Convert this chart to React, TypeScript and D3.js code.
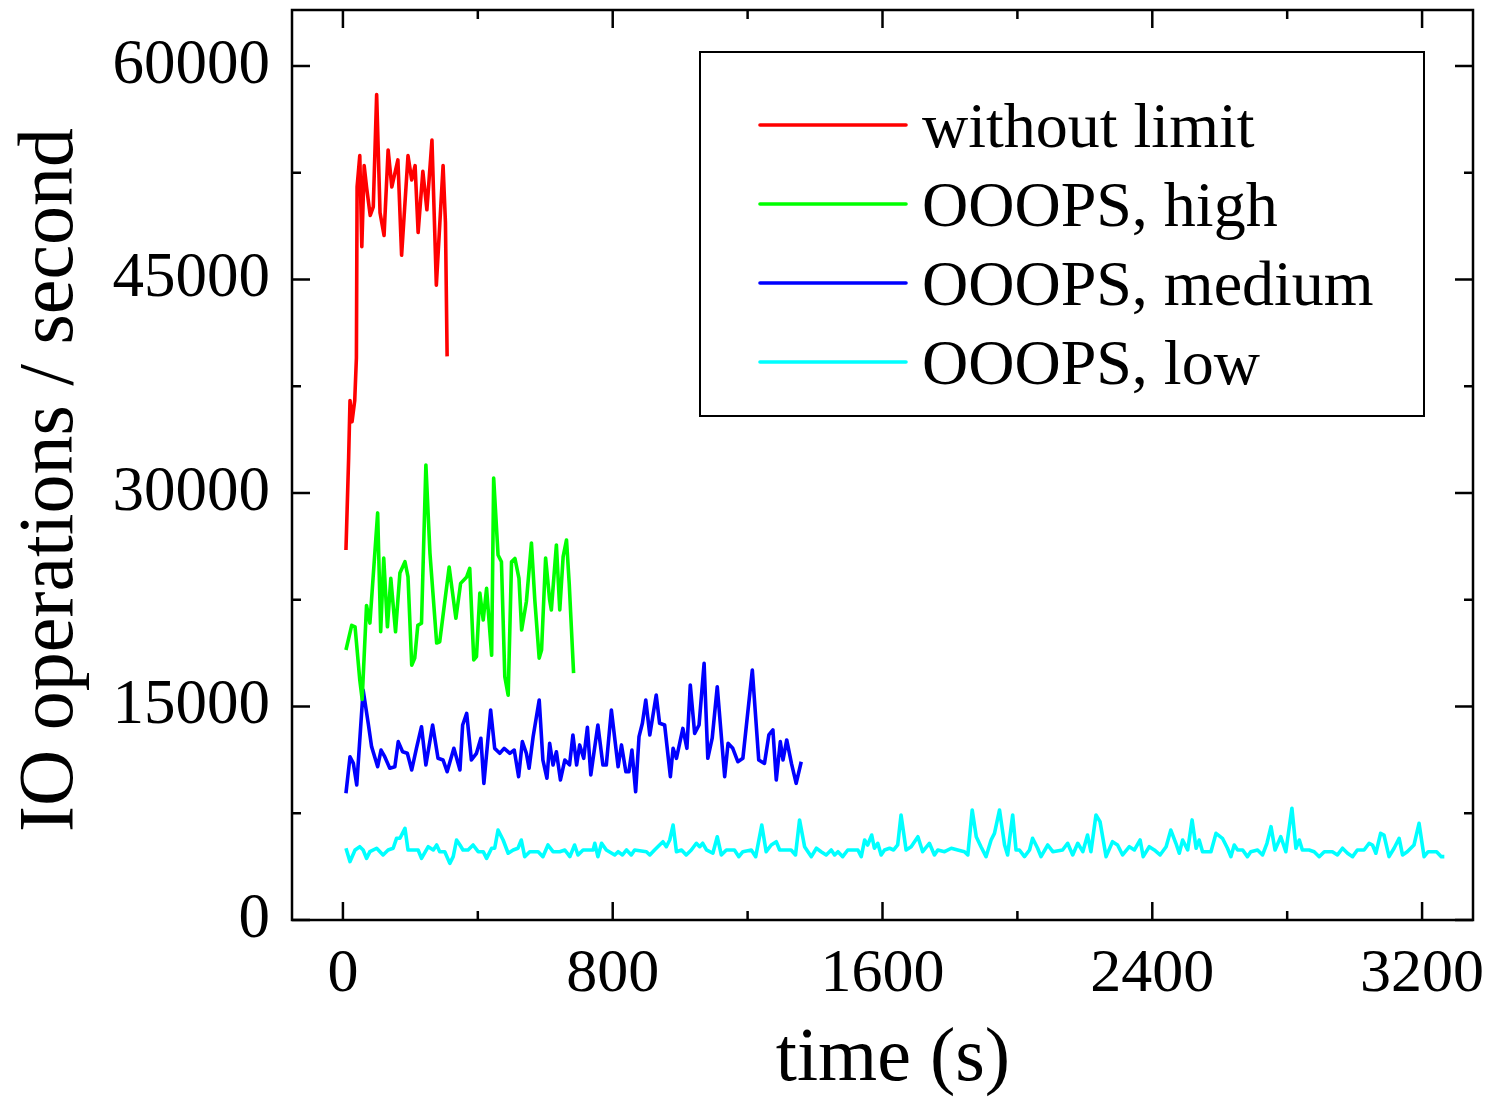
import React from "react";
import * as d3 from "d3";

// time (s) / IO operations per second
const noLimit: [number, number][] = [
  [9, 26000], [17, 32500], [21, 36500], [27, 35000], [35, 36500], [40, 39500],
  [42, 51500], [50, 53700], [56, 47300], [63, 53000], [70, 51500], [81, 49500],
  [90, 50100], [100, 58000], [110, 49700], [122, 48100], [134, 54100], [145, 51500],
  [163, 53400], [174, 46700], [193, 53700], [204, 52000], [214, 53000], [223, 48300],
  [237, 52600], [249, 49900], [264, 54800], [277, 44600], [297, 53000], [304, 49000],
  [309, 39600],
];

const high: [number, number][] = [
  [9, 18970], [26, 20700], [36, 20600], [50, 16860], [57, 15500], [70, 22100],
  [80, 20860], [103, 28600], [112, 20250], [121, 25430], [132, 20600], [142, 24000],
  [156, 20250], [169, 24380], [184, 25170], [193, 24100], [204, 17900], [213, 18400],
  [222, 20700], [233, 20850], [246, 31970], [258, 25800], [278, 19460], [287, 19550],
  [315, 24800], [335, 21200], [349, 23650], [367, 24100], [376, 24700], [388, 18270],
  [396, 18500], [406, 22970], [416, 21080], [426, 23300], [441, 18600], [447, 31050],
  [460, 25640], [470, 25170], [480, 17100], [490, 15800], [500, 25170], [510, 25400],
  [522, 24000], [530, 20370], [544, 22360], [559, 26490], [569, 22480], [582, 18400],
  [589, 18970], [601, 25430], [613, 22480], [618, 21780], [633, 26350], [643, 21780],
  [653, 25530], [663, 26700], [671, 23650], [684, 17350],
];

const medium: [number, number][] = [
  [9, 8900], [21, 11470], [31, 11000], [41, 9490], [60, 16160], [75, 13820],
  [85, 12180], [103, 10770], [113, 11940], [124, 11470], [139, 10660], [154, 10770],
  [164, 12530], [177, 11820], [191, 11710], [204, 10540], [218, 12060], [233, 13580],
  [246, 10890], [266, 13700], [282, 11360], [297, 11240], [309, 10420], [329, 12060],
  [347, 10540], [355, 13700], [367, 14520], [381, 11240], [396, 11710], [409, 12770],
  [418, 9600], [438, 14750], [450, 12060], [465, 11710], [478, 12060], [495, 11710],
  [508, 11940], [521, 10070], [532, 12530], [544, 11710], [552, 10660], [564, 12880],
  [582, 15460], [593, 11240], [605, 9960], [613, 12410], [623, 10890], [633, 11820],
  [645, 9840], [658, 11240], [672, 10900], [682, 13000], [693, 10890], [702, 12300],
  [714, 11360], [725, 13540], [735, 10190], [756, 13700], [771, 10890], [781, 10890],
  [796, 14750], [816, 10770], [826, 12300], [839, 10420], [848, 10420], [857, 11940],
  [868, 9010], [878, 12880], [888, 13820], [898, 15460], [910, 13000], [929, 15810],
  [939, 13820], [954, 13700], [971, 10070], [979, 12060], [989, 11360], [1008, 13460],
  [1020, 12060], [1030, 16510], [1043, 13110], [1056, 13700], [1071, 18030], [1082, 11360],
  [1095, 12770], [1110, 16390], [1132, 10070], [1142, 12410], [1156, 12060], [1171, 11120],
  [1186, 11360], [1214, 17560], [1233, 11240], [1250, 11000], [1263, 13000], [1275, 13350],
  [1285, 9840], [1297, 12530], [1305, 11240], [1316, 12650], [1330, 11000], [1344, 9600],
  [1359, 11120],
];

const low: [number, number][] = [
  [9, 5040], [21, 4100], [36, 4920], [50, 5150], [60, 4920], [70, 4330], [80, 4800],
  [100, 5040], [119, 4570], [134, 4920], [149, 5040], [159, 5740], [169, 5740], [184, 6440],
  [193, 4920], [223, 4920], [233, 4330], [253, 5150], [268, 4920], [278, 5270], [287, 4800],
  [302, 4800], [317, 3980], [327, 4450], [337, 5620], [347, 5270], [356, 4920], [371, 4920],
  [386, 5270], [401, 4800], [416, 4800], [426, 4330], [441, 5040], [450, 5040], [460, 6320],
  [475, 5620], [490, 4690], [505, 4920], [519, 5040], [529, 5620], [539, 4450], [554, 4800],
  [579, 4800], [593, 4450], [608, 5270], [623, 4800], [643, 4800], [658, 4920], [673, 4450],
  [687, 5270], [697, 4570], [712, 4920], [742, 4920], [747, 5390], [756, 4450], [767, 5390],
  [781, 4920], [806, 4570], [816, 4800], [829, 4570], [841, 4920], [855, 4570], [865, 4920],
  [900, 4800], [910, 4570], [924, 4920], [939, 5270], [949, 5500], [959, 5150], [969, 5620],
  [979, 6670], [989, 4800], [1004, 4920], [1018, 4570], [1033, 4920], [1048, 5390],
  [1058, 5150], [1067, 5390], [1078, 4920], [1097, 4690], [1110, 5850], [1122, 4570],
  [1137, 4920], [1161, 4920], [1174, 4450], [1186, 4800], [1211, 4920], [1224, 4450],
  [1242, 6670], [1255, 4800], [1270, 5270], [1285, 5500], [1295, 4920], [1329, 4920],
  [1342, 4570], [1354, 7030], [1369, 5150], [1389, 4450], [1404, 5040], [1418, 4800],
  [1433, 4570], [1448, 4920], [1458, 4570], [1468, 4800], [1482, 4450], [1497, 4920],
  [1527, 4920], [1537, 4450], [1547, 5620], [1556, 5270], [1568, 5970], [1576, 5040],
  [1586, 5390], [1596, 4570], [1606, 4920], [1621, 5040], [1633, 4920], [1645, 5270],
  [1655, 7380], [1670, 4920], [1685, 5150], [1705, 5850], [1719, 4800], [1739, 5390],
  [1754, 4570], [1764, 4920], [1784, 4800], [1804, 5040], [1823, 4920], [1843, 4800],
  [1853, 4570], [1866, 7730], [1878, 5850], [1892, 5150], [1907, 4450], [1922, 5620],
  [1932, 6090], [1947, 7730], [1962, 5270], [1971, 4570], [1986, 7380], [1996, 4920],
  [2006, 4920], [2021, 4450], [2036, 4920], [2045, 5740], [2060, 5040], [2070, 4450],
  [2090, 5270], [2105, 4800], [2134, 4920], [2149, 5390], [2164, 4570], [2179, 5390],
  [2194, 4800], [2208, 5970], [2218, 4800], [2233, 7380], [2245, 6910], [2263, 4450],
  [2282, 5500], [2297, 5270], [2312, 4570], [2332, 5150], [2347, 4920], [2364, 5620],
  [2373, 4450], [2391, 5150], [2406, 4920], [2423, 4570], [2441, 5150], [2455, 6320],
  [2470, 5390], [2480, 4690], [2490, 5620], [2505, 4920], [2518, 7030], [2530, 5040],
  [2539, 5620], [2549, 4800], [2574, 4800], [2589, 6090], [2608, 5740], [2623, 5040],
  [2633, 4450], [2643, 5270], [2653, 4920], [2668, 4920], [2682, 4450], [2692, 4800],
  [2712, 4920], [2727, 4570], [2740, 5390], [2752, 6560], [2764, 4920], [2781, 5850],
  [2796, 4800], [2814, 7850], [2826, 5040], [2836, 5620], [2845, 4920], [2865, 4920],
  [2880, 4800], [2895, 4450], [2910, 4800], [2934, 4800], [2949, 4570], [2964, 5040],
  [2979, 4690], [2994, 4450], [3008, 4920], [3028, 4920], [3043, 5390], [3053, 5270],
  [3063, 4690], [3077, 6090], [3087, 5970], [3102, 4450], [3117, 5040], [3132, 5740],
  [3142, 4570], [3156, 4800], [3176, 5270], [3191, 6790], [3206, 4450], [3218, 4800],
  [3243, 4800], [3257, 4450], [3266, 4450],
];

const seriesNames = ["without limit", "OOOPS, high", "OOOPS, medium", "OOOPS, low"];
const seriesColors = ["#ff0000", "#00ff00", "#0000ff", "#00ffff"];
const allSeries = [noLimit, high, medium, low];

const xMajor = [0, 800, 1600, 2400, 3200];
const xMinor = [400, 1200, 2000, 2800];
const yMajor = [0, 15000, 30000, 45000, 60000];
const yMinor = [7500, 22500, 37500, 52500];

const W = 1490;
const H = 1097;
const plot = { left: 292, top: 10, right: 1473, bottom: 920 };
const font = "'Liberation Serif', 'Times New Roman', serif";

export default function App() {
  const x = d3.scaleLinear().domain([-151, 3351]).range([plot.left, plot.right]);
  const y = d3.scaleLinear().domain([0, 63934]).range([plot.bottom, plot.top]);
  const line = d3
    .line<[number, number]>()
    .x((d) => x(d[0]))
    .y((d) => y(d[1]));

  const major = 18;
  const minor = 9;

  return (
    <div style={{ position: "absolute", left: 0, top: 0 }}>
      <svg width={W} height={H} style={{ display: "block", background: "#fff" }} fontFamily={font}>
        {/* data lines, low first so the others sit on top */}
        {allSeries
          .slice()
          .reverse()
          .map((s, i) => (
            <path
              key={i}
              d={line(s) || ""}
              fill="none"
              stroke={seriesColors[3 - i]}
              strokeWidth={3.6}
              strokeLinejoin="round"
            />
          ))}

        {/* frame */}
        <rect
          x={plot.left}
          y={plot.top}
          width={plot.right - plot.left}
          height={plot.bottom - plot.top}
          fill="none"
          stroke="#000"
          strokeWidth={2.5}
        />

        {/* ticks on all four sides, pointing in */}
        <g stroke="#000" strokeWidth={2.5}>
          {xMajor.map((v) => (
            <g key={"xm" + v}>
              <line x1={x(v)} x2={x(v)} y1={plot.bottom} y2={plot.bottom - major} />
              <line x1={x(v)} x2={x(v)} y1={plot.top} y2={plot.top + major} />
            </g>
          ))}
          {xMinor.map((v) => (
            <g key={"xn" + v}>
              <line x1={x(v)} x2={x(v)} y1={plot.bottom} y2={plot.bottom - minor} />
              <line x1={x(v)} x2={x(v)} y1={plot.top} y2={plot.top + minor} />
            </g>
          ))}
          {yMajor.map((v) => (
            <g key={"ym" + v}>
              <line x1={plot.left} x2={plot.left + major} y1={y(v)} y2={y(v)} />
              <line x1={plot.right} x2={plot.right - major} y1={y(v)} y2={y(v)} />
            </g>
          ))}
          {yMinor.map((v) => (
            <g key={"yn" + v}>
              <line x1={plot.left} x2={plot.left + minor} y1={y(v)} y2={y(v)} />
              <line x1={plot.right} x2={plot.right - minor} y1={y(v)} y2={y(v)} />
            </g>
          ))}
        </g>

        {/* tick labels */}
        {xMajor.map((v) => (
          <text key={"xl" + v} x={x(v)} y={991} textAnchor="middle" fontSize={62}>
            {v}
          </text>
        ))}
        {yMajor.map((v) => (
          <text key={"yl" + v} x={270} y={y(v) + 17} textAnchor="end" fontSize={63}>
            {v}
          </text>
        ))}

        {/* axis titles */}
        <text x={893} y={1080} textAnchor="middle" fontSize={76}>
          time (s)
        </text>
        <text transform={`translate(72, 480) rotate(-90)`} textAnchor="middle" fontSize={78}>
          IO operations / second
        </text>

        {/* legend */}
        <rect x={700} y={52} width={724} height={364} fill="#fff" stroke="#000" strokeWidth={2} />
        {seriesNames.map((name, i) => {
          const ly = 125 + i * 79;
          return (
            <g key={name}>
              <line
                x1={760}
                x2={906}
                y1={ly}
                y2={ly}
                stroke={seriesColors[i]}
                strokeWidth={3.6}
                strokeLinecap="round"
              />
              <text x={922} y={ly + 22} fontSize={64}>
                {name}
              </text>
            </g>
          );
        })}
      </svg>
    </div>
  );
}
